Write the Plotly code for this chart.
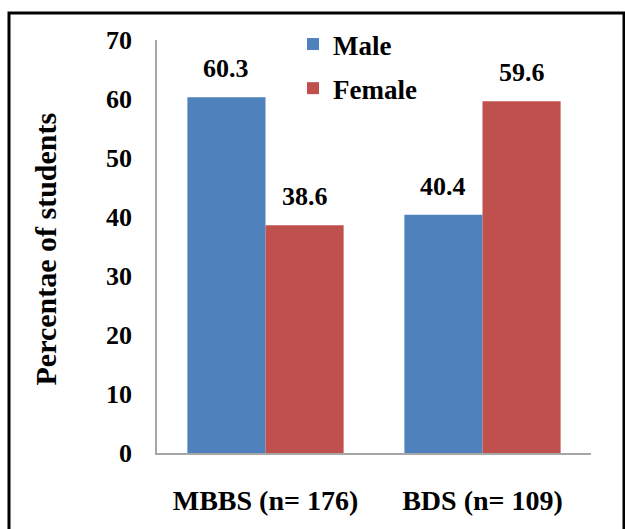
import plotly.graph_objects as go

categories = ["MBBS (n= 176)", "BDS (n= 109)"]
male = [60.3, 40.4]
female = [38.6, 59.6]
series_names = ["Male", "Female"]
y_ticks = [0, 10, 20, 30, 40, 50, 60, 70]

BLUE = "#4F81BD"
RED = "#C0504D"
FONT = "Liberation Serif, Times New Roman, serif"

W, H = 625, 529
L, R, T, B = 157, 34, 40, 76
pw, ph = W - L - R, H - T - B

def px(x):
    return (x - L) / pw

def py(y):
    return (H - B - y) / ph

def bold(s):
    return f"<b>{s}</b>"

fig = go.Figure()
fig.add_trace(go.Bar(x=categories, y=male, name=bold(series_names[0]), marker_color=BLUE,
                     marker_line_width=0, legendgroup="m"))
fig.add_trace(go.Bar(x=categories, y=female, name=bold(series_names[1]), marker_color=RED,
                     marker_line_width=0, legendgroup="f"))

bargap = 0.28
half = (1 - bargap) / 4
for i, (m, f) in enumerate(zip(male, female)):
    for val, off in ((m, -half), (f, half)):
        fig.add_annotation(x=i + off, y=val, text=bold(f"{val:.1f}"), showarrow=False,
                           yanchor="bottom", yshift=12,
                           font=dict(family=FONT, size=26, color="black"))

fig.add_annotation(xref="paper", yref="paper", x=px(27), y=py(249),
                   text=bold("Percentae of students"), textangle=-90, showarrow=False,
                   font=dict(family=FONT, size=30, color="black"))

fig.add_shape(type="rect", xref="paper", yref="paper",
              x0=px(9), x1=px(624), y0=py(540), y1=py(13),
              line=dict(color="black", width=3), layer="above")

fig.update_layout(
    width=W, height=H,
    margin=dict(l=L, r=R, t=T, b=B),
    paper_bgcolor="white", plot_bgcolor="white",
    barmode="group", bargap=bargap, bargroupgap=0,
    showlegend=True,
    legend=dict(x=px(293), y=py(20), xanchor="left", yanchor="top",
                font=dict(family=FONT, size=27, color="black"),
                tracegroupgap=6, bgcolor="rgba(0,0,0,0)"),
    xaxis=dict(type="category", showline=True, linecolor="#A6A6A6", linewidth=1.5,
               showgrid=False, ticks="", ticklabelstandoff=22,
               tickvals=categories, ticktext=[bold(c) for c in categories],
               tickfont=dict(family=FONT, size=28, color="black")),
    yaxis=dict(range=[0, 70], tickvals=y_ticks, ticktext=[bold(t) for t in y_ticks],
               showline=True, linecolor="#A6A6A6",
               linewidth=1.5, showgrid=False, zeroline=False, ticks="",
               ticklabelstandoff=18,
               tickfont=dict(family=FONT, size=26, color="black")),
)

fig.write_html("out.html", config={"displayModeBar": False},
               post_script="document.body.style.margin='0';document.body.style.overflow='hidden';")
